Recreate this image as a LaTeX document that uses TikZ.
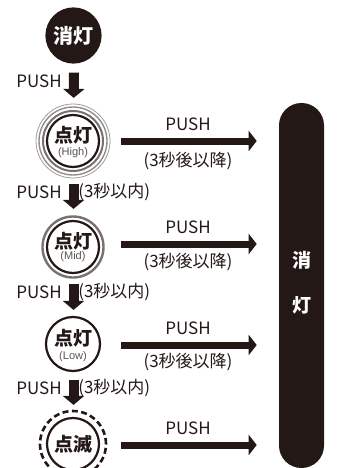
\documentclass[tikz,border=0pt]{standalone}
\usepackage{fontspec}
\setmainfont{Noto Sans CJK JP}
\newfontfamily\latinfont{Liberation Sans}
\definecolor{inkblack}{HTML}{231815}
\definecolor{ringgray}{HTML}{77716F}
\usetikzlibrary{arrows.meta}
\usetikzlibrary{calc}
\usetikzlibrary{positioning}

\begin{document}
\begin{tikzpicture}[x=1pt,y=-1pt,semithick,inkblack]
	\tikzstyle{lamp}=[draw=inkblack, circle, line width=2.2pt, minimum size=52pt, inner sep=0pt]
	\tikzstyle{halo}=[draw=ringgray, circle, inner sep=0pt]
	\tikzstyle{blockv}=[draw=inkblack, line width=10pt, -{Triangle[length=9pt,width=21pt]}]
	\tikzstyle{blockh}=[draw=inkblack, line width=7pt, -{Triangle[length=8pt,width=20pt]}]
	\tikzstyle{pushtext}=[font=\fontsize{17}{17}\selectfont, inner sep=0pt]
	\tikzstyle{lamptext}=[font=\fontsize{19}{19}\bfseries\selectfont, inner sep=0pt]
	\tikzstyle{gradetext}=[font=\latinfont\fontsize{11}{11}\selectfont, text=inkblack!75, inner sep=0pt]
	\useasboundingbox (0,0) rectangle (341,468);

	% lamps
	\node[lamp, fill=inkblack, minimum size=54pt, text=white, lamptext, font=\fontsize{20}{20}\bfseries\selectfont] (off) at (73.5,35.5) {消灯};
	\node[lamp] (high) at (73,141) {};
	\node[lamp] (mid) at (73,247) {};
	\node[lamp, minimum size=54pt] (low) at (73,344) {};
	\node[lamp] (blink) at (73,444) {};

	% rings
	\node[halo, line width=2pt, minimum size=60pt] (highA) at (high) {};
	\node[halo, line width=1.4pt, minimum size=68pt, draw=ringgray!80] (highB) at (high) {};
	\node[halo, line width=.8pt, minimum size=74pt, draw=ringgray!70] (highC) at (high) {};
	\node[halo, line width=2.4pt, minimum size=61pt] (midA) at (mid) {};
	\node[halo, draw=inkblack, line width=2.6pt, dash pattern=on 6pt off 3.4pt, minimum size=66pt] (blinkA) at (blink) {};

	% lamp texts
	\node[lamptext] (highT) at (73,135) {点灯};
	\node[gradetext] (highL) at (73,152.5) {(High)};
	\node[lamptext] (midT) at (73,241) {点灯};
	\node[gradetext] (midL) at (73,257) {(Mid)};
	\node[lamptext] (lowT) at (73,338.5) {点灯};
	\node[gradetext] (lowL) at (73,356.5) {(Low)};
	\node[lamptext] (blinkT) at (73,444) {点滅};

	% end bar
	\node[fill=inkblack, rounded corners=22.4pt, minimum width=45pt, minimum height=365pt, inner sep=0pt] (bar) at (301.5,285.5) {};
	\node[lamptext, text=white] (barA) at (302,260) {消};
	\node[lamptext, text=white] (barB) at (302,305) {灯};

	% down arrows
	\foreach \a/\b/\s/\t in {off/high/9/16, high/mid/16/11, mid/low/10/6, low/blink/8/12}{
		\draw[blockv, shorten <=\s pt, shorten >=\t pt] ([xshift=.5pt]\a.south) -- ([xshift=.5pt]\b.north);
	}

	% right arrows
	\foreach \n/\y in {a/141,b/244,c/345,d/445}{
		\coordinate (start\n) at (121,\y);
		\draw[blockh, shorten >=22pt] (start\n) -- (start\n -| bar.west);
	}

	% labels
	\foreach \y/\n in {81/a,192/b,292/c,388/d}{
		\node[pushtext, anchor=east] (push\n) at (62,\y) {PUSH};
	}
	\foreach \n in {b,c,d}{
		\node[pushtext, right=16pt of push\n] (within\n) {(3秒以内)};
	}
	\foreach \y/\n in {124/a,227/b,328/c,428/d}{
		\node[pushtext] (over\n) at (188,\y) {PUSH};
	}
	\foreach \y/\n in {161/a,262/b,362/c}{
		\node[pushtext] (after\n) at (188,\y) {(3秒後以降)};
	}
\end{tikzpicture}
\end{document}
